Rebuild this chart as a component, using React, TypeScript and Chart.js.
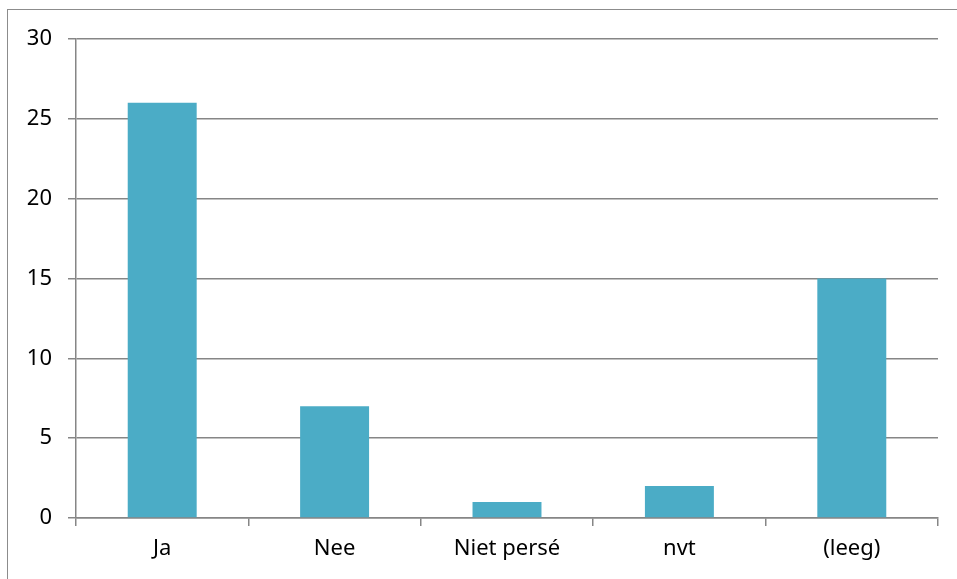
import React, { useEffect, useRef } from "react";
import { Chart, registerables } from "chart.js";

Chart.register(...registerables);

const categories = ["Ja", "Nee", "Niet persé", "nvt", "(leeg)"];
const values = [26, 7, 1, 2, 15];
const yMin = 0;
const yMax = 30;
const yStep = 5;

export default function App() {
  const ref = useRef<HTMLCanvasElement | null>(null);
  useEffect(() => {
    if (!ref.current) return;
    const gray = "#868686";
    const font = { family: "'Noto Sans', sans-serif", size: 22 };
    const chart = new Chart(ref.current, {
      type: "bar",
      data: {
        labels: categories,
        datasets: [
          {
            data: values,
            backgroundColor: "#4BACC6",
            borderWidth: 0,
            categoryPercentage: 1,
            barPercentage: 0.4,
          },
        ],
      },
      options: {
        animation: false,
        responsive: false,
        maintainAspectRatio: false,
        layout: { padding: { left: 0, top: 39, right: 19, bottom: 0 } },
        plugins: { legend: { display: false }, tooltip: { enabled: false } },
        scales: {
          x: {
            grid: {
              offset: true,
              drawOnChartArea: false,
              drawTicks: true,
              tickLength: 8,
              color: gray,
              lineWidth: 1.5,
            },
            border: { color: gray, width: 1.5 },
            ticks: { color: "#000", font, padding: 10, maxRotation: 0 },
            afterFit: (s: any) => {
              s.height = 61;
            },
          },
          y: {
            min: yMin,
            max: yMax,
            ticks: { stepSize: yStep, color: "#000", font, padding: 16 },
            grid: { color: gray, lineWidth: 1.5, tickLength: 8, drawTicks: true },
            border: { color: gray, width: 1.5 },
            afterFit: (s: any) => {
              s.width = 76;
            },
          },
        },
      },
    });
    return () => chart.destroy();
  }, []);
  return (
    <div style={{ position: "fixed", left: 0, top: 0, width: 957, height: 579, background: "#fff", overflow: "hidden" }}>
      <div
        style={{
          position: "absolute",
          left: 7,
          top: 9,
          width: 1200,
          height: 1200,
          borderLeft: "1.5px solid #8c8c8c",
          borderTop: "1.5px solid #8c8c8c",
        }}
      />
      <canvas ref={ref} width={957} height={579} style={{ position: "absolute", left: 0, top: 0 }} />
    </div>
  );
}
